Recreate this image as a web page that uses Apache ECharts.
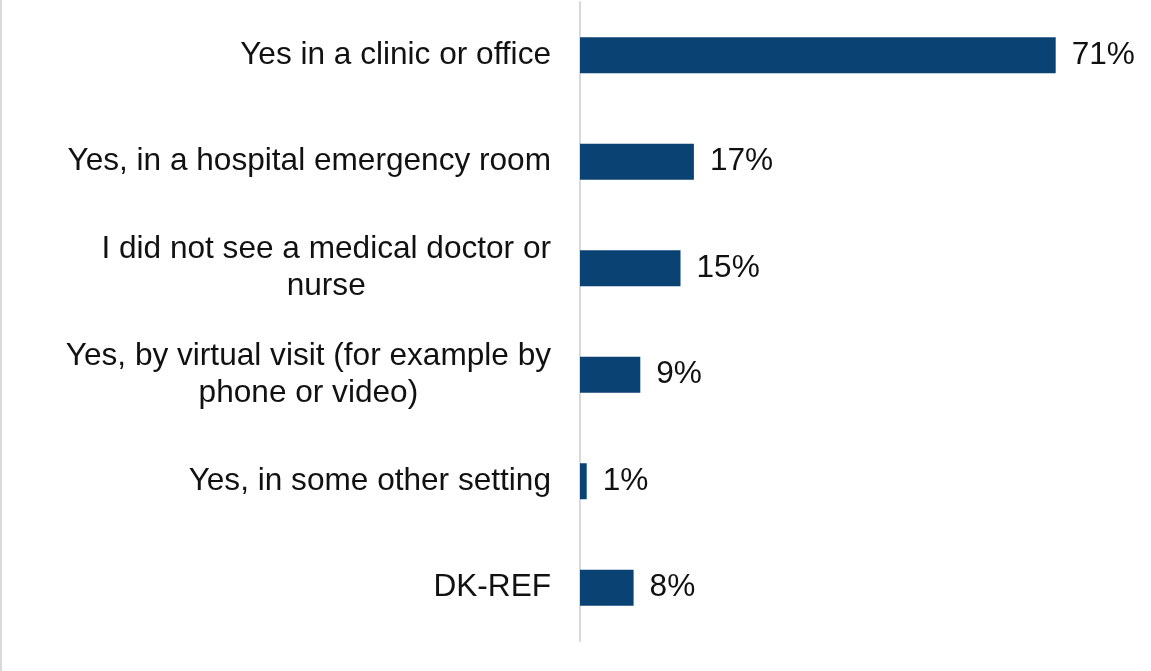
<!DOCTYPE html>
<html>
<head>
<meta charset="utf-8">
<style>
  html, body { margin: 0; padding: 0; background: #ffffff; }
  #chart { width: 1151px; height: 671px; }
</style>
<script src="https://cdn.jsdelivr.net/npm/echarts@6/dist/echarts.min.js"></script>
</head>
<body>
<div id="chart"></div>
<script>
// Answer options, top to bottom (line breaks mark the wrapped labels)
const categories = [
  'Yes in a clinic or office',
  'Yes, in a hospital emergency room',
  'I did not see a medical doctor or\nnurse',
  'Yes, by virtual visit (for example by\nphone or video)',
  'Yes, in some other setting',
  'DK-REF'
];

// Share of respondents, percent
const values = [71, 17, 15, 9, 1, 8];

const FONT = '"Liberation Sans", Arial, sans-serif';
const FONT_SIZE = 31.6;
const TEXT_COLOR = '#111111';
const BAR_COLOR = '#0a4273';

const chart = echarts.init(document.getElementById('chart'), null, { renderer: 'canvas' });

chart.setOption({
  backgroundColor: '#ffffff',
  animation: false,
  graphic: [{
    type: 'rect',
    shape: { x: 0, y: 0, width: 2, height: 671 },
    style: { fill: '#d9d9d9' },
    silent: true
  }],
  grid: { left: 580, right: 35, top: 2, bottom: 30, containLabel: false },
  xAxis: {
    type: 'value',
    min: 0,
    max: 80,
    show: false
  },
  yAxis: {
    type: 'category',
    data: categories,
    inverse: true,
    axisLine: { show: true, lineStyle: { color: '#d9d9d9', width: 2 } },
    axisTick: { show: false },
    splitLine: { show: false },
    axisLabel: {
      margin: 29,
      fontFamily: FONT,
      fontSize: FONT_SIZE,
      color: TEXT_COLOR,
      lineHeight: 37,
      formatter: function (v) {
        // centre each wrapped line within the label block
        return v.split('\n').map(function (line) { return '{c|' + line + '}'; }).join('\n');
      },
      rich: {
        c: { align: 'center', fontFamily: FONT, fontSize: FONT_SIZE, color: TEXT_COLOR, lineHeight: 37 }
      }
    }
  },
  series: [{
    type: 'bar',
    data: values,
    barWidth: 36,
    itemStyle: { color: BAR_COLOR },
    label: {
      show: true,
      position: 'right',
      distance: 16,
      fontFamily: FONT,
      fontSize: FONT_SIZE,
      color: TEXT_COLOR,
      formatter: '{c}%'
    }
  }]
});
</script>
</body>
</html>
